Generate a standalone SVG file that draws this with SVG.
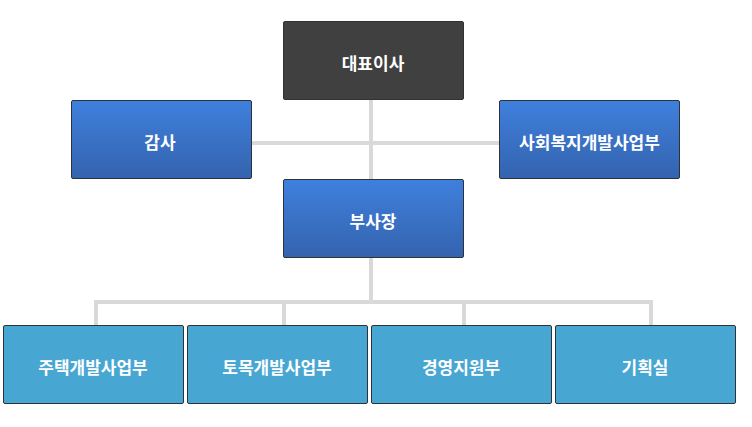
<svg xmlns="http://www.w3.org/2000/svg" width="752" height="427" viewBox="0 0 752 427">
<style>
.box{stroke:#2e3338;stroke-width:1}
.dark{fill:#404040}
.blue{fill:url(#gb)}
.light{fill:#47a6d2}
.t{font-family:"Noto Sans CJK KR","Noto Sans",sans-serif;font-weight:bold;font-size:17px;fill:#ffffff;text-anchor:middle;dominant-baseline:central}
.ln{stroke:#d9d9d9;stroke-width:4;fill:none}
</style>
<defs>
<linearGradient id="gb" x1="0" y1="0" x2="0" y2="1">
<stop offset="0" stop-color="#3f80dd"/>
<stop offset="1" stop-color="#3463ae"/>
</linearGradient>
</defs>
<rect width="752" height="427" fill="#ffffff"/>
<g id="connectors">
<path class="ln" d="M252 143H499"/>
<path class="ln" d="M371 99V180"/>
<path class="ln" d="M371 258V302"/>
<path class="ln" d="M96 325V302H651V325"/>
<path class="ln" d="M284 302V325"/>
<path class="ln" d="M464 302V325"/>
</g>
<g id="n-ceo"><rect class="box dark" x="283.5" y="21.5" width="180" height="78" rx="1.5"/><text class="t" x="373" y="62">대표이사</text></g>
<g id="n-audit"><rect class="box blue" x="71.5" y="100.5" width="180" height="78" rx="1.5"/><text class="t" x="160" y="141">감사</text></g>
<g id="n-welfare"><rect class="box blue" x="499.5" y="100.5" width="180" height="78" rx="1.5"/><text class="t" x="589.5" y="141">사회복지개발사업부</text></g>
<g id="n-vp"><rect class="box blue" x="283.5" y="179.5" width="180" height="78" rx="1.5"/><text class="t" x="373" y="220">부사장</text></g>
<g id="n-housing"><rect class="box light" x="3.5" y="325.5" width="180" height="78" rx="1.5"/><text class="t" x="93" y="366">주택개발사업부</text></g>
<g id="n-civil"><rect class="box light" x="187.5" y="325.5" width="180" height="78" rx="1.5"/><text class="t" x="277" y="366">토목개발사업부</text></g>
<g id="n-mgmt"><rect class="box light" x="371.5" y="325.5" width="180" height="78" rx="1.5"/><text class="t" x="461" y="366">경영지원부</text></g>
<g id="n-plan"><rect class="box light" x="555.5" y="325.5" width="180" height="78" rx="1.5"/><text class="t" x="645" y="366">기획실</text></g>
</svg>
